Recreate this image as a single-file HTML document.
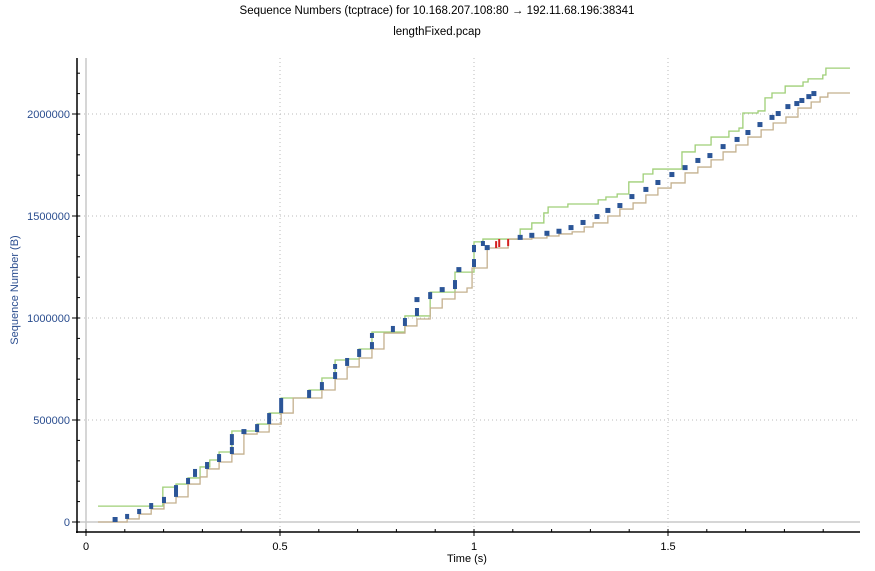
<!DOCTYPE html>
<html><head><meta charset="utf-8"><style>
body{margin:0;background:#fff;width:875px;height:571px;overflow:hidden;font-family:"Liberation Sans",sans-serif}
svg{display:block}
</style></head><body>
<svg id="chart" width="875" height="571" xmlns="http://www.w3.org/2000/svg">
<text x="437" y="14" text-anchor="middle" font-size="11.5" fill="#000">Sequence Numbers (tcptrace) for 10.168.207.108:80 → 192.11.68.196:38341</text>
<text x="437" y="35" text-anchor="middle" font-size="11.5" fill="#000">lengthFixed.pcap</text>
<g id="grid"></g>
<g id="axes"></g>
<g id="series"></g>
<text x="467" y="562" text-anchor="middle" font-size="11" fill="#000">Time (s)</text>
<text transform="translate(18,290) rotate(-90)" text-anchor="middle" font-size="11" fill="#2a4d8f">Sequence Number (B)</text>
</svg>
<script>
const xTicks=[0,0.5,1,1.5];
const xTickLabels=["0","0.5","1","1.5"];
const yTicks=[0,500000,1000000,1500000,2000000];
const yTickLabels=["0","500000","1000000","1500000","2000000"];
// segments: time, seq start (k), seq end (k)
const segTimes=[.075,.106,.137,.168,.201,.232,.263,.281,.312,.343,.376,.376,.407,.441,.472,.503,.575,.608,.642,.642,.673,.704,.737,.737,.791,.822,.853,.853,.887,.918,.951,.961,1.0,1.0,1.023,1.034,1.119,1.149,1.188,1.219,1.25,1.281,1.317,1.345,1.376,1.407,1.443,1.474,1.51,1.544,1.577,1.608,1.642,1.678,1.706,1.737,1.768,1.784,1.809,1.832,1.845,1.863,1.876];
const segStart=[0,15,39,64,93,123,186,221,260,294,333,377,431,441,480,534,608,647,701,750,765,809,848,902,931,961,1010,1078,1093,1127,1142,1225,1250,1323,1353,1333,1383,1393,1403,1413,1431,1456,1485,1515,1539,1583,1618,1652,1691,1725,1760,1784,1828,1863,1897,1936,1971,1990,2024,2039,2054,2073,2088];
const segEnd=[15,39,64,93,123,181,216,260,294,333,368,431,441,480,534,608,647,686,735,770,804,848,882,926,961,1000,1049,1093,1127,1142,1186,1240,1289,1358,1377,1343,1393,1403,1413,1423,1446,1471,1500,1530,1554,1598,1633,1667,1706,1740,1775,1799,1843,1878,1912,1951,1986,2005,2039,2054,2069,2088,2103];
const retransTimes=[1.057,1.065,1.088];
const retransStart=[1343,1348,1353];
const retransEnd=[1377,1387,1387];
const winTimes=[.031,.198,.232,.263,.294,.319,.343,.376,.441,.472,.503,.575,.608,.642,.673,.704,.737,.822,.887,.951,1.0,1.023,1.119,1.149,1.18,1.191,1.242,1.32,1.34,1.369,1.399,1.436,1.461,1.536,1.57,1.611,1.657,1.683,1.693,1.732,1.75,1.768,1.802,1.848,1.861,1.899,1.907,1.969];
const winValues=[78,171,186,216,270,304,343,446,480,534,608,647,706,794,799,848,931,1010,1127,1225,1373,1387,1436,1466,1515,1544,1559,1579,1593,1608,1667,1706,1730,1814,1848,1887,1916,1931,2005,2015,2079,2103,2137,2157,2172,2191,2225,2225];
const ackTimes=[.031,.106,.137,.168,.201,.232,.263,.294,.312,.343,.376,.407,.441,.472,.503,.534,.608,.642,.673,.704,.737,.768,.822,.853,.887,.918,.951,.982,.995,1.034,1.088,1.149,1.188,1.219,1.253,1.284,1.307,1.345,1.376,1.41,1.443,1.474,1.508,1.544,1.577,1.611,1.642,1.675,1.706,1.74,1.771,1.804,1.835,1.869,1.892,1.912,1.969];
const ackValues=[0,15,39,64,93,123,186,221,260,294,333,431,441,480,534,608,647,701,760,804,848,926,961,995,1049,1093,1127,1147,1245,1343,1387,1392,1402,1412,1422,1446,1466,1500,1534,1564,1603,1637,1662,1711,1740,1775,1814,1848,1887,1922,1956,1985,2029,2059,2083,2103,2103];

const NS="http://www.w3.org/2000/svg";
const X0=86,XS=388,Y0=522,YS=0.000204;
const L=80,R=860,T=58,B=532;
function xs(t){return X0+t*XS;}
function ys(v){return Y0-v*YS;}
function mk(tag,attrs,parent){const e=document.createElementNS(NS,tag);for(const k in attrs)e.setAttribute(k,attrs[k]);parent.appendChild(e);return e;}
const grid=document.getElementById('grid'),axes=document.getElementById('axes'),series=document.getElementById('series');
xTicks.forEach((t,i)=>{if(t===0)return;const l=mk('line',{x1:xs(t),x2:xs(t),y1:T,y2:B,stroke:'#bbb','stroke-dasharray':'1,3'},grid);

});
yTicks.forEach((v,i)=>{if(v===0)return;const l=mk('line',{x1:L,x2:R,y1:ys(v),y2:ys(v),stroke:'#bbb','stroke-dasharray':'1,3'},grid);

});
const zx=mk('line',{x1:xs(0),x2:xs(0),y1:T,y2:B,stroke:'#c8c8c8','stroke-width':1.5},grid);


const zy=mk('line',{x1:L,x2:R,y1:ys(0),y2:ys(0),stroke:'#c8c8c8','stroke-width':1.5},grid);


const ya=mk('line',{x1:77,x2:77,y1:T,y2:B+1,stroke:'#000','stroke-width':1.5},axes);


const xa=mk('line',{x1:76,x2:R,y1:B,y2:B,stroke:'#000','stroke-width':1.5},axes);


for(let t=0;t<=1.95;t+=0.1){const maj=Math.abs(t*2-Math.round(t*2))<1e-6;mk('line',{x1:xs(t),x2:xs(t),y1:maj?B+4:B,y2:B-3,stroke:'#000'},axes);}
for(let v=0;v<=2200000;v+=100000){const maj=v%500000===0;mk('line',{x1:maj?72:77,x2:80,y1:ys(v),y2:ys(v),stroke:'#000'},axes);}
xTicks.forEach((t,i)=>{const e=mk('text',{x:xs(t),y:550,'text-anchor':'middle','font-size':11,fill:'#000'},axes);e.textContent=xTickLabels[i];

});
yTicks.forEach((v,i)=>{const e=mk('text',{x:70,y:ys(v)+4,'text-anchor':'end','font-size':11,fill:'#2a4d8f'},axes);e.textContent=yTickLabels[i];

});
function stepPath(ts,vs){let d='M'+xs(ts[0])+','+ys(vs[0]*1000);for(let i=1;i<ts.length;i++){d+=' H'+xs(ts[i])+' V'+ys(vs[i]*1000);}return d;}
const win=mk('path',{d:stepPath(winTimes,winValues),fill:'none',stroke:'#9fcf77','stroke-width':1.3},series);


const ack=mk('path',{d:stepPath(ackTimes,ackValues),fill:'none',stroke:'#c4b08e','stroke-width':1.3},series);


segTimes.forEach((t,i)=>{const y1=ys(segEnd[i]*1000),y2=ys(segStart[i]*1000);const h=Math.max(5,y2-y1);
const w=(y2-y1)<4?5:4;
const r=mk('rect',{x:xs(t)-w/2,y:y2-h,width:w,height:h,fill:'#2b5597'},series);

});
retransTimes.forEach((t,i)=>{const y1=ys(retransEnd[i]*1000),y2=ys(retransStart[i]*1000);
const r=mk('rect',{x:xs(t)-1,y:y1,width:2,height:y2-y1,fill:'#d42020'},series);

});
</script>
</body></html>
